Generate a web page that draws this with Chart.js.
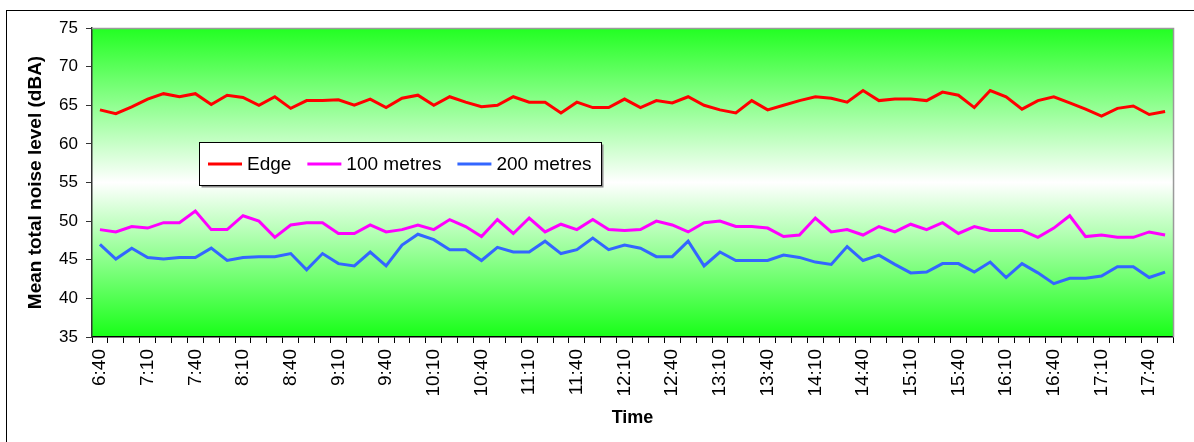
<!DOCTYPE html>
<html><head><meta charset="utf-8">
<script src="https://cdn.jsdelivr.net/npm/chart.js@4/dist/chart.umd.min.js"></script>
<style>html,body{margin:0;padding:0;background:#fff}canvas{display:block}</style>
</head><body>
<canvas id="c" width="1194" height="442"></canvas>
<script>
const categories = ['6:40','6:50','7:00','7:10','7:20','7:30','7:40','7:50','8:00','8:10','8:20','8:30','8:40','8:50',
  '9:00','9:10','9:20','9:30','9:40','9:50','10:00','10:10','10:20','10:30','10:40','10:50','11:00','11:10','11:20','11:30',
  '11:40','11:50','12:00','12:10','12:20','12:30','12:40','12:50','13:00','13:10','13:20','13:30','13:40','13:50','14:00',
  '14:10','14:20','14:30','14:40','14:50','15:00','15:10','15:20','15:30','15:40','15:50','16:00','16:10','16:20','16:30',
  '16:40','16:50','17:00','17:10','17:20','17:30','17:40','17:50'];

const edge = [64.4,63.9,64.8,65.8,66.5,66.1,66.5,65.1,66.3,66.0,65.0,66.1,64.6,65.6,65.6,65.7,65.0,65.8,
  64.7,65.9,66.3,65.0,66.1,65.4,64.8,65.0,66.1,65.4,65.4,64.0,65.4,64.7,64.7,65.8,64.7,65.6,
  65.3,66.1,65.0,64.4,64.0,65.6,64.4,65.0,65.6,66.1,65.9,65.4,66.9,65.6,65.8,65.8,65.6,
  66.7,66.3,64.7,66.9,66.1,64.5,65.6,66.1,65.3,64.5,63.6,64.6,64.9,63.8,64.2];

const metres100 = [48.9,48.6,49.3,49.1,49.8,49.8,51.3,48.9,48.9,50.7,50.0,47.9,49.5,49.8,49.8,48.4,48.4,49.5,
  48.6,48.9,49.5,48.9,50.2,49.3,48.0,50.2,48.4,50.4,48.6,49.6,48.9,50.2,48.9,48.8,48.9,50.0,
  49.5,48.6,49.8,50.0,49.3,49.3,49.1,48.0,48.2,50.4,48.6,48.9,48.2,49.3,48.6,49.6,48.9,
  49.8,48.4,49.3,48.8,48.8,48.8,47.9,49.1,50.7,48.0,48.2,47.9,47.9,48.6,48.2];

const metres200 = [47.0,45.1,46.5,45.3,45.1,45.3,45.3,46.5,44.9,45.3,45.4,45.4,45.8,43.7,45.8,44.5,44.2,46.0,
  44.2,46.9,48.3,47.6,46.3,46.3,44.9,46.6,46.0,46.0,47.4,45.8,46.3,47.8,46.3,46.9,46.5,45.4,
  45.4,47.4,44.2,46.0,44.9,44.9,44.9,45.6,45.3,44.7,44.4,46.7,44.9,45.6,44.4,43.3,43.4,
  44.5,44.5,43.4,44.7,42.7,44.5,43.3,41.9,42.6,42.6,42.9,44.1,44.1,42.7,43.4];

const seriesNames = ['Edge', '100 metres', '200 metres'];
const seriesColors = ['#ff0000', '#ff00ff', '#3366ff'];
const yMin = 35, yMax = 75, yStep = 5;
const labelEvery = 3;
const yTitle = 'Mean total noise level (dBA)';
const xTitle = 'Time';

const FONT = "'Liberation Sans', Arial, sans-serif";

const decor = {
  id: 'decor',
  beforeDraw(chart) {
    const {ctx, chartArea: a} = chart;
    ctx.save();
    ctx.strokeStyle = '#000';
    ctx.lineWidth = 1;
    ctx.strokeRect(6.5, 10.5, 1400, 600);
    const g = ctx.createLinearGradient(0, a.top, 0, a.bottom);
    g.addColorStop(0, 'rgb(34,255,34)');
    g.addColorStop(0.5, '#ffffff');
    g.addColorStop(1, 'rgb(24,255,24)');
    ctx.fillStyle = g;
    ctx.fillRect(a.left, a.top, a.right - a.left, a.bottom - a.top);
    ctx.restore();
  },
  afterDatasetsDraw(chart) {
    const {ctx, chartArea: a} = chart;
    ctx.save();
    // gray plot border top/right
    ctx.strokeStyle = '#9a9a9a';
    ctx.lineWidth = 1.5;
    ctx.beginPath();
    ctx.moveTo(a.left, a.top + 0.5);
    ctx.lineTo(a.right + 0.5, a.top + 0.5);
    ctx.lineTo(a.right + 0.5, a.bottom);
    ctx.stroke();

    // legend
    const bx = 199.5, by = 142.5, bw = 402, bh = 43;
    ctx.fillStyle = '#8c8c8c';
    ctx.fillRect(bx + 2, by + 2, bw, bh);
    ctx.fillStyle = '#fff';
    ctx.fillRect(bx, by, bw, bh);
    ctx.strokeStyle = '#000';
    ctx.lineWidth = 1;
    ctx.strokeRect(bx, by, bw, bh);
    ctx.font = '19px ' + FONT;
    ctx.textBaseline = 'middle';
    ctx.textAlign = 'left';
    let x = 208;
    const cy = 164;
    chart.data.datasets.forEach(ds => {
      ctx.strokeStyle = ds.borderColor;
      ctx.lineWidth = 3;
      ctx.beginPath();
      ctx.moveTo(x, cy);
      ctx.lineTo(x + 34, cy);
      ctx.stroke();
      ctx.fillStyle = '#000';
      ctx.fillText(ds.label, x + 39, cy + 1);
      x = x + 39 + ctx.measureText(ds.label).width + 16;
    });
    ctx.restore();
  }
};

const seriesData = [edge, metres100, metres200];

new Chart(document.getElementById('c'), {
  type: 'line',
  data: {
    labels: categories,
    datasets: seriesNames.map((n, i) => ({
      label: n,
      data: seriesData[i],
      borderColor: seriesColors[i],
      backgroundColor: seriesColors[i],
      borderWidth: 3,
      pointRadius: 0,
      tension: 0,
      fill: false
    }))
  },
  options: {
    responsive: false,
    animation: false,
    devicePixelRatio: 1,
    layout: {padding: {left: 0, top: 28, right: 16, bottom: 0}},
    plugins: {legend: {display: false}, tooltip: {enabled: false}},
    scales: {
      x: {
        type: 'category',
        offset: true,
        grid: {offset: true, drawOnChartArea: false, drawTicks: true, tickLength: 6, color: '#000', lineWidth: 1},
        border: {display: true, color: '#000', width: 1.5},
        ticks: {
          autoSkip: false, maxRotation: 90, minRotation: 90, padding: 6,
          color: '#000', font: {family: FONT, size: 19},
          callback: function(v, i) { return i % labelEvery === 0 ? this.getLabelForValue(v) : ''; }
        },
        title: {display: true, text: xTitle, color: '#000', font: {family: FONT, size: 18, weight: 'bold'}, padding: {top: 0, bottom: 13}},
        afterFit: s => { s.height = 105; }
      },
      y: {
        min: yMin, max: yMax,
        grid: {drawOnChartArea: false, drawTicks: true, tickLength: 6, color: '#333', lineWidth: 1},
        border: {display: true, color: '#333', width: 1.5},
        ticks: {stepSize: yStep, padding: 8, color: '#000', font: {family: FONT, size: 17}},
        title: {display: true, text: yTitle, color: '#000', font: {family: FONT, size: 19, weight: 'bold'}, padding: {top: 24, bottom: 0}},
        afterFit: s => { s.width = 92; }
      }
    }
  },
  plugins: [decor]
});
</script>
</body></html>
